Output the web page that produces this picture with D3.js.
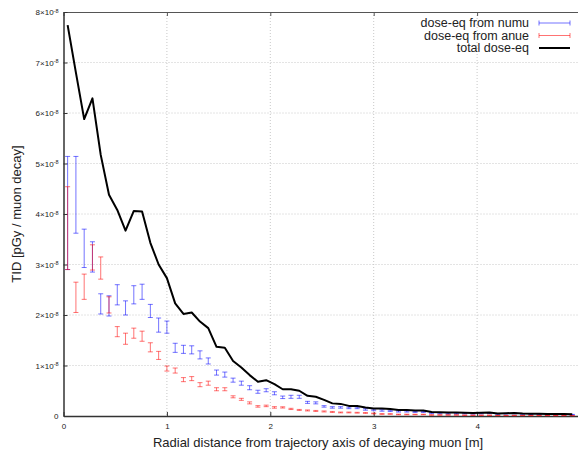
<!DOCTYPE html>
<html>
<head>
<meta charset="utf-8">
<script src="https://cdn.jsdelivr.net/npm/d3@7"></script>
<style>
  body { margin: 0; background: #fff; }
  svg { display: block; font-family: "Liberation Sans", Arial, sans-serif; }
  .tick text { font-size: 8px; fill: #222; }
</style>
</head>
<body>
<svg width="578" height="453"></svg>
<script>
// radial bin centres [m]
var radius = [0.04, 0.12, 0.20, 0.28, 0.36, 0.44, 0.52, 0.60, 0.68, 0.76,
  0.84, 0.92, 1.00, 1.08, 1.16, 1.24, 1.32, 1.40, 1.48, 1.56,
  1.64, 1.72, 1.80, 1.88, 1.96, 2.04, 2.12, 2.20, 2.28, 2.36,
  2.44, 2.52, 2.60, 2.68, 2.76, 2.84, 2.92, 3.00, 3.08, 3.16,
  3.24, 3.32, 3.40, 3.48, 3.56, 3.64, 3.72, 3.80, 3.88, 3.96,
  4.04, 4.12, 4.20, 4.28, 4.36, 4.44, 4.52, 4.60, 4.68, 4.76,
  4.84, 4.92];

// all dose values in units of 1e-8 pGy / muon decay
var numu = [4.02, 4.38, 3.32, 3.15, 2.22, 2.18, 2.40, 2.14, 2.40, 2.46,
  2.08, 1.80, 1.76, 1.35, 1.32, 1.31, 1.21, 1.09, 0.86, 0.82,
  0.71, 0.65, 0.56, 0.48, 0.51, 0.45, 0.37, 0.38, 0.38, 0.27,
  0.26, 0.19, 0.17, 0.17, 0.16, 0.16, 0.13, 0.12, 0.11, 0.10,
  0.09, 0.09, 0.08, 0.08, 0.06, 0.055, 0.05, 0.05, 0.05, 0.045,
  0.05, 0.055, 0.04, 0.045, 0.05, 0.04, 0.035, 0.035, 0.03, 0.03,
  0.03, 0.027];
var numuErr = [1.12, 0.76, 0.38, 0.30, 0.20, 0.20, 0.20, 0.14, 0.18, 0.15,
  0.13, 0.14, 0.12, 0.09, 0.08, 0.08, 0.08, 0.06, 0.05, 0.05,
  0.04, 0.04, 0.04, 0.03, 0.03, 0.03, 0.025, 0.03, 0.03, 0.02,
  0.02, 0.015, 0.015, 0.015, 0.015, 0.015, 0.015, 0.015, 0.015, 0.012,
  0.012, 0.012, 0.01, 0.01, 0.01, 0.01, 0.01, 0.008, 0.008, 0.008,
  0.008, 0.008, 0.007, 0.007, 0.007, 0.006, 0.006, 0.006, 0.005, 0.005,
  0.005, 0.005];

var anue = [3.72, 2.35, 2.56, 3.14, 2.93, 2.20, 1.67, 1.53, 1.64, 1.58,
  1.36, 1.20, 0.94, 0.90, 0.72, 0.74, 0.62, 0.65, 0.53, 0.53,
  0.38, 0.33, 0.26, 0.19, 0.20, 0.17, 0.17, 0.14, 0.12, 0.11,
  0.10, 0.09, 0.08, 0.07, 0.07, 0.065, 0.06, 0.05, 0.04, 0.04,
  0.03, 0.03, 0.03, 0.03, 0.02, 0.02, 0.02, 0.02, 0.015, 0.015,
  0.015, 0.015, 0.01, 0.01, 0.01, 0.01, 0.01, 0.01, 0.01, 0.008,
  0.008, 0.007];
var anueErr = [0.82, 0.30, 0.25, 0.25, 0.22, 0.16, 0.10, 0.11, 0.10, 0.10,
  0.09, 0.08, 0.05, 0.05, 0.04, 0.04, 0.04, 0.04, 0.03, 0.03,
  0.02, 0.02, 0.02, 0.015, 0.015, 0.015, 0.012, 0.012, 0.01, 0.01,
  0.01, 0.01, 0.01, 0.008, 0.008, 0.008, 0.008, 0.007, 0.007, 0.006,
  0.006, 0.006, 0.005, 0.005, 0.005, 0.005, 0.005, 0.004, 0.004, 0.004,
  0.004, 0.004, 0.003, 0.003, 0.003, 0.003, 0.003, 0.003, 0.003, 0.003,
  0.003, 0.003];

var total = [7.74, 6.80, 5.88, 6.29, 5.17, 4.38, 4.08, 3.67, 4.06, 4.05,
  3.43, 3.00, 2.73, 2.23, 2.02, 2.05, 1.87, 1.74, 1.37, 1.35,
  1.09, 0.96, 0.81, 0.68, 0.71, 0.63, 0.53, 0.53, 0.50, 0.40,
  0.38, 0.32, 0.25, 0.24, 0.20, 0.20, 0.17, 0.15, 0.15, 0.14,
  0.12, 0.12, 0.11, 0.11, 0.08, 0.075, 0.07, 0.07, 0.065, 0.06,
  0.065, 0.07, 0.05, 0.055, 0.06, 0.05, 0.045, 0.045, 0.04, 0.04,
  0.04, 0.035];

var xTicks = [0, 1, 2, 3, 4];
var yTicks = [0, 1, 2, 3, 4, 5, 6, 7, 8];
var legendLabels = ["dose-eq from numu", "dose-eq from anue", "total dose-eq"];

var svg = d3.select("svg");
var plotLeft = 63.5, plotTop = 12, plotBottom = 416, plotRight = 580.5;

var x = d3.scaleLinear().domain([0, 5]).range([plotLeft, plotRight]);
var y = d3.scaleLinear().domain([0, 8]).range([plotBottom, plotTop]);

// grid
var grid = svg.append("g")
  .attr("stroke", "#c8c8c8")
  .attr("stroke-dasharray", "1,2")
  .attr("stroke-width", 1);
grid.selectAll(".gx").data(xTicks.slice(1)).enter().append("line")
  .attr("x1", function (d) { return x(d); }).attr("x2", function (d) { return x(d); })
  .attr("y1", plotTop).attr("y2", plotBottom);
grid.selectAll(".gy").data(yTicks.slice(1, -1)).enter().append("line")
  .attr("x1", plotLeft).attr("x2", 578)
  .attr("y1", function (d) { return y(d); }).attr("y2", function (d) { return y(d); });

// axes, ticks pointing inward like gnuplot
var xAxis = svg.append("g")
  .attr("transform", "translate(0," + plotBottom + ")")
  .call(d3.axisBottom(x).tickValues(xTicks).tickSizeInner(-4).tickSizeOuter(0).tickPadding(7)
    .tickFormat(d3.format("d")));
xAxis.select(".domain").attr("stroke", "#333").attr("stroke-width", 1.5);
xAxis.selectAll(".tick line").attr("stroke", "#333");

svg.append("g")
  .attr("transform", "translate(0," + plotTop + ")")
  .call(d3.axisTop(x).tickValues(xTicks).tickSizeInner(-4).tickSizeOuter(0).tickFormat(""))
  .call(function (g) {
    g.select(".domain").attr("stroke", "#555");
    g.selectAll(".tick line").attr("stroke", "#555");
  });

var yAxis = svg.append("g")
  .attr("transform", "translate(" + plotLeft + ",0)")
  .call(d3.axisLeft(y).tickValues(yTicks).tickSizeInner(-4).tickSizeOuter(0).tickPadding(5)
    .tickFormat(""));
yAxis.select(".domain").attr("stroke", "#333").attr("stroke-width", 1.5);
yAxis.selectAll(".tick line").attr("stroke", "#333");

yAxis.selectAll(".tick").each(function (d) {
  var t = d3.select(this).select("text").attr("dy", "0.32em");
  if (d === 0) {
    t.text("0");
  } else {
    t.text(d + "\u00d710");
    t.append("tspan").attr("dy", "-0.45em").attr("font-size", "5.5px").text("-8");
  }
});

// error bars
function errorBars(vals, errs, colour) {
  var g = svg.append("g")
    .attr("stroke", colour)
    .attr("stroke-opacity", 0.55)
    .attr("stroke-width", 1);
  var rows = g.selectAll("g").data(radius).enter().append("g");
  rows.append("line")
    .attr("x1", function (d) { return x(d); })
    .attr("x2", function (d) { return x(d); })
    .attr("y1", function (d, i) { return y(vals[i] + errs[i]); })
    .attr("y2", function (d, i) { return y(vals[i] - errs[i]); });
  rows.append("line")
    .attr("x1", function (d) { return x(d) - 2.5; })
    .attr("x2", function (d) { return x(d) + 2.5; })
    .attr("y1", function (d, i) { return y(vals[i] + errs[i]); })
    .attr("y2", function (d, i) { return y(vals[i] + errs[i]); });
  rows.append("line")
    .attr("x1", function (d) { return x(d) - 2.5; })
    .attr("x2", function (d) { return x(d) + 2.5; })
    .attr("y1", function (d, i) { return y(vals[i] - errs[i]); })
    .attr("y2", function (d, i) { return y(vals[i] - errs[i]); });
}
errorBars(numu, numuErr, "#0000ff");
errorBars(anue, anueErr, "#ff0000");

// total line
var line = d3.line()
  .x(function (d) { return x(d); })
  .y(function (d, i) { return y(total[i]); });
svg.append("path")
  .datum(radius)
  .attr("d", line)
  .attr("fill", "none")
  .attr("stroke", "#000")
  .attr("stroke-width", 2)
  .attr("stroke-linejoin", "round");

// legend
var legend = svg.append("g");
var legendColours = ["#0000ff", "#ff0000", "#000"];
legendLabels.forEach(function (label, i) {
  var ly = 23 + i * 12.5;
  legend.append("text")
    .attr("x", 529).attr("y", ly).attr("dy", "0.35em")
    .attr("text-anchor", "end")
    .attr("font-size", "12.5px")
    .attr("fill", "#222")
    .text(label);
  if (i < 2) {
    var lg = legend.append("g").attr("stroke", legendColours[i]).attr("stroke-opacity", 0.55);
    lg.append("line").attr("x1", 539).attr("x2", 570).attr("y1", ly).attr("y2", ly);
    lg.append("line").attr("x1", 539).attr("x2", 539).attr("y1", ly - 2.5).attr("y2", ly + 2.5);
    lg.append("line").attr("x1", 570).attr("x2", 570).attr("y1", ly - 2.5).attr("y2", ly + 2.5);
  } else {
    legend.append("line").attr("x1", 539).attr("x2", 570).attr("y1", ly).attr("y2", ly)
      .attr("stroke", "#000").attr("stroke-width", 2);
  }
});

// axis titles
svg.append("text")
  .attr("x", 318).attr("y", 447)
  .attr("text-anchor", "middle")
  .attr("font-size", "13px")
  .attr("fill", "#222")
  .text("Radial distance from trajectory axis of decaying muon [m]");

svg.append("text")
  .attr("transform", "translate(21,214) rotate(-90)")
  .attr("text-anchor", "middle")
  .attr("font-size", "13px")
  .attr("fill", "#222")
  .text("TID [pGy / muon decay]");
</script>
</body>
</html>
